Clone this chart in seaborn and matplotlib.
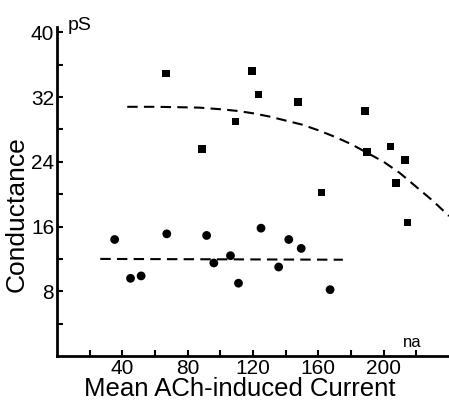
import numpy as np
import pandas as pd
import matplotlib
matplotlib.use("Agg")
import matplotlib.pyplot as plt
import seaborn as sns

# squares (upper group)
sq_current = [66.8, 88.9, 109.3, 119.2, 123.3, 147.4, 161.9, 188.5, 189.9, 204.1, 207.4, 212.9, 214.5]
sq_cond = [34.9, 25.6, 29.0, 35.2, 32.3, 31.4, 20.2, 30.3, 25.2, 25.9, 21.4, 24.2, 16.5]

# circles (lower group)
ci_current = [35.3, 45.0, 51.5, 67.2, 91.6, 96.0, 106.2, 111.1, 124.9, 135.7, 141.9, 149.5, 167.2]
ci_cond = [14.4, 9.6, 9.9, 15.1, 14.9, 11.5, 12.4, 9.0, 15.8, 11.0, 14.4, 13.3, 8.2]

# dashed fits
fit_hi_x = [43, 60, 75, 87, 100, 110, 120, 130, 140, 150, 160, 170, 180, 190, 200, 210, 220, 230, 240]
fit_hi_y = [30.8, 30.8, 30.75, 30.7, 30.5, 30.3, 30.0, 29.6, 29.1, 28.6, 27.9, 27.1, 26.2, 25.1, 24.0, 22.6, 20.9, 19.2, 17.3]
fit_lo_x = [26.5, 175]
fit_lo_y = [12.0, 11.9]

xmajor = [40, 80, 120, 160, 200]
ymajor = [8, 16, 24, 32, 40]

sns.set_style("ticks")
plt.rcParams['font.family'] = ['Liberation Sans', 'DejaVu Sans']
plt.rcParams['text.color'] = 'black'

fig = plt.figure(figsize=(4.49, 4.01), dpi=100)
ax = fig.add_axes([0.127, 0.1122, 0.873, 0.8212])

sq = pd.DataFrame({'x': sq_current, 'y': sq_cond})
ci = pd.DataFrame({'x': ci_current, 'y': ci_cond})
sns.scatterplot(data=sq, x='x', y='y', marker='s', s=30, color='black', edgecolor='none', ax=ax)
sns.scatterplot(data=ci, x='x', y='y', marker='o', s=40, color='black', edgecolor='none', ax=ax)

hi = pd.DataFrame({'x': fit_hi_x, 'y': fit_hi_y})
lo = pd.DataFrame({'x': fit_lo_x, 'y': fit_lo_y})
sns.lineplot(data=hi, x='x', y='y', color='black', lw=1.5, ax=ax,
             linestyle=(0, (5, 3)))
sns.lineplot(data=lo, x='x', y='y', color='black', lw=1.5, ax=ax,
             linestyle=(0, (5, 3)))

ax.set_xlim(0, 240)
ax.set_ylim(0, 40.7)
ax.set_xticks(xmajor)
ax.set_xticks(range(20, 240, 40), minor=True)
ax.set_yticks(ymajor)
ax.set_yticks(range(4, 40, 8), minor=True)
ax.tick_params(axis='both', which='both', direction='in', width=1.5, length=4,
               labelsize=15, pad=2, color='black', labelcolor='black')
for s in ['top', 'right']:
    ax.spines[s].set_visible(False)
for s in ['left', 'bottom']:
    ax.spines[s].set_linewidth(2)
    ax.spines[s].set_color('black')

ax.set_xlabel('Mean ACh-induced Current', fontsize=18.5, color='black')
ax.xaxis.set_label_coords(0.467, -0.064)
ax.xaxis.label.set_va('top')
ax.set_ylabel('Conductance', fontsize=19, color='black')
ax.yaxis.set_label_coords(-0.072, 0.431)
ax.text(0.028, 1.005, 'pS', transform=ax.transAxes, fontsize=14, va='center', ha='left', color='black')
ax.text(217.5, 1.1, 'na', fontsize=12, ha='center', va='baseline', color='black')

fig.savefig('out.png', dpi=100)
